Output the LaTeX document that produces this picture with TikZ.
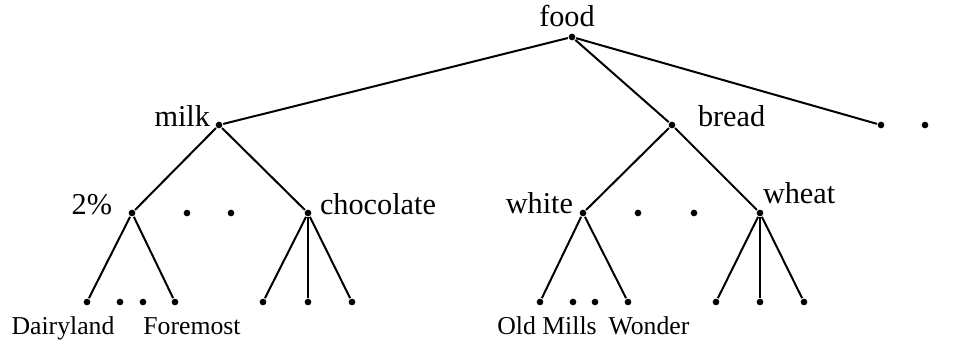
\documentclass[tikz,border=0pt]{standalone}
\usepackage{fontspec}
\setmainfont{Liberation Serif}
\usetikzlibrary{positioning}

\begin{document}
\begin{tikzpicture}[x=0.75pt,y=-0.75pt,line width=1.5pt,
		dot/.style={circle,fill,inner sep=0pt,minimum size=5pt},
		big label/.style={inner sep=0pt,font=\fontsize{22.7}{26}\selectfont},
		small label/.style={inner sep=0pt,font=\fontsize{19.3}{22}\selectfont}]
		\useasboundingbox (0,0) rectangle (966,343);
		% 根节点
		\node[dot] (food) at (572,37) {};
		\node[dot] (milk) at (219,125) {};
		\node[dot] (bread) at (672,125) {};
		\node[dot] (more1) at (881,125) {};
		\node[dot] (more2) at (925,125) {};
		\node[big label, anchor=base] (foodtext) at (567,26) {food};
		\node[big label, anchor=base east] (milktext) at (211,126) {milk};
		\node[big label, anchor=base west] (breadtext) at (697,126) {bread};
		% 第二层
		\node[dot] (twopct) at (132,213) {};
		\node[dot] (milkdot1) at (187,213) {};
		\node[dot] (milkdot2) at (231,213) {};
		\node[dot] (choc) at (308,213) {};
		\node[dot] (white) at (583,213) {};
		\node[dot] (breaddot1) at (638,213) {};
		\node[dot] (breaddot2) at (694,213) {};
		\node[dot] (wheat) at (760,213) {};
		\node[big label, anchor=base east] (twopcttext) at (113,214) {2\%};
		\node[big label, anchor=base west] (choctext) at (319,214) {chocolate};
		\node[big label, anchor=base east] (whitetext) at (574,213) {white};
		\node[big label, anchor=base west] (wheattext) at (762,203) {wheat};
		% 叶子
		\node[dot] (dairy) at (87,302) {};
		\node[dot] (twodot1) at (120,302) {};
		\node[dot] (twodot2) at (143,302) {};
		\node[dot] (fore) at (175,302) {};
		\node[dot] (choc1) at (263,302) {};
		\node[dot] (choc2) at (308,302) {};
		\node[dot] (choc3) at (352,302) {};
		\node[dot] (oldm) at (540,302) {};
		\node[dot] (whdot1) at (573,302) {};
		\node[dot] (whdot2) at (595,302) {};
		\node[dot] (wond) at (628,302) {};
		\node[dot] (wheat1) at (716,302) {};
		\node[dot] (wheat2) at (760,302) {};
		\node[dot] (wheat3) at (804,302) {};
		\node[small label, anchor=base] (dairytext) at (63,334) {Dairyland};
		\node[small label, anchor=base] (foretext) at (192,334) {Foremost};
		\node[small label, anchor=base] (oldmtext) at (547,334) {Old Mills};
		\node[small label, anchor=base] (wondtext) at (649,334) {Wonder};
		\path
		(food) edge (milk)
		(food) edge (bread)
		(food) edge (more1)
		(milk) edge (twopct)
		(milk) edge (choc)
		(bread) edge (white)
		(bread) edge (wheat)
		(twopct) edge (dairy)
		(twopct) edge (fore)
		(choc) edge (choc1)
		(choc) edge (choc2)
		(choc) edge (choc3)
		(white) edge (oldm)
		(white) edge (wond)
		(wheat) edge (wheat1)
		(wheat) edge (wheat2)
		(wheat) edge (wheat3);
\end{tikzpicture}
\end{document}
